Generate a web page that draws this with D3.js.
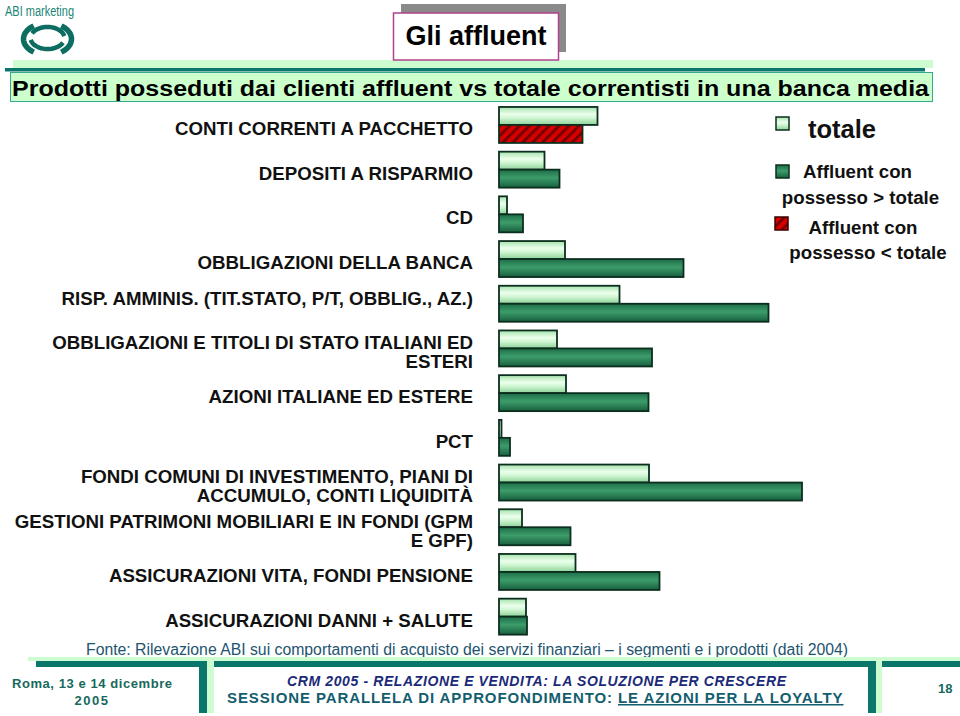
<!DOCTYPE html>
<html><head><meta charset="utf-8">
<script src="https://cdn.jsdelivr.net/npm/d3@7"></script>
<style>
body{margin:0;background:#fff;}
svg{display:block;font-family:"Liberation Sans",Arial,sans-serif;}
</style></head><body>
<svg id="c" width="960" height="716"></svg>
<script>
const categories = [
  "CONTI CORRENTI A PACCHETTO","DEPOSITI A RISPARMIO","CD","OBBLIGAZIONI DELLA BANCA",
  "RISP. AMMINIS. (TIT.STATO, P/T, OBBLIG., AZ.)","OBBLIGAZIONI E TITOLI DI STATO ITALIANI ED ESTERI",
  "AZIONI ITALIANE ED ESTERE","PCT","FONDI COMUNI DI INVESTIMENTO, PIANI DI ACCUMULO, CONTI LIQUIDITÀ",
  "GESTIONI PATRIMONI MOBILIARI E IN FONDI (GPM E GPF)","ASSICURAZIONI VITA, FONDI PENSIONE",
  "ASSICURAZIONI DANNI + SALUTE"
];
const labelLines = [
  ["CONTI CORRENTI A PACCHETTO"],["DEPOSITI A RISPARMIO"],["CD"],["OBBLIGAZIONI DELLA BANCA"],
  ["RISP. AMMINIS. (TIT.STATO, P/T, OBBLIG., AZ.)",""],
  ["OBBLIGAZIONI E TITOLI DI STATO ITALIANI ED","ESTERI"],
  ["AZIONI ITALIANE ED ESTERE"],["PCT"],
  ["FONDI COMUNI DI INVESTIMENTO, PIANI DI","ACCUMULO, CONTI LIQUIDITÀ"],
  ["GESTIONI PATRIMONI MOBILIARI E IN FONDI (GPM","E GPF)"],
  ["ASSICURAZIONI VITA, FONDI PENSIONE"],["ASSICURAZIONI DANNI + SALUTE"]
];
const totale   = [19.7, 9.1, 1.6, 13.2, 24.1, 11.6, 13.4, 0.5, 30.0, 4.6, 15.3, 5.4];
const affluent = [16.7,12.1, 4.8, 36.9, 53.9, 30.6, 29.9, 2.2, 60.6,14.3, 32.1, 5.6];
const seriesNames = ["totale","affluent"];
const legendLabels = [["totale"],["Affluent con","possesso > totale"],["Affluent con","possesso < totale"]];
const chartTitle = "Prodotti posseduti dai clienti affluent vs totale correntisti in una banca media";
const sectionTitle = "Gli affluent";
const sourceNote = "Fonte: Rilevazione ABI sui comportamenti di acquisto dei servizi finanziari – i segmenti e i prodotti (dati 2004)";

const svg = d3.select("#c");
const TEAL = "#0b776b", LIGHT = "#ccfcd0";
const defs = svg.append("defs");
function grad(id, stops){
  const g = defs.append("linearGradient").attr("id",id).attr("x1",0).attr("y1",0).attr("x2",0).attr("y2",1);
  stops.forEach(s=>g.append("stop").attr("offset",s[0]).attr("stop-color",s[1]));
}
grad("gTot",[[0,"#a3e2ab"],[0.4,"#ecffec"],[0.6,"#d2f7d4"],[1,"#8cd198"]]);
grad("gAff",[[0,"#1d6d47"],[0.45,"#3d9c6a"],[1,"#17603e"]]);
const pat = defs.append("pattern").attr("id","hatch").attr("patternUnits","userSpaceOnUse")
  .attr("width",7).attr("height",7).attr("patternTransform","rotate(45)");
pat.append("rect").attr("width",7).attr("height",7).attr("fill","#d40000");
pat.append("rect").attr("width",2.6).attr("height",7).attr("fill","#6e0000");

// ---- header / logo
svg.append("text").attr("x",5).attr("y",15.5).attr("font-size",14).attr("fill","#1a8576")
  .attr("textLength",69).attr("lengthAdjust","spacingAndGlyphs").text("ABI marketing");
const logo = svg.append("g").attr("fill","none").attr("stroke","#0d6d60");
function arcPath(cx,cy,rx,ry,a0,a1){
  const pts=d3.range(0,1.0001,0.05).map(t=>{const a=(a0+(a1-a0)*t)*Math.PI/180;return [cx+rx*Math.cos(a),cy+ry*Math.sin(a)];});
  return d3.line()(pts);
}
logo.append("path").attr("d",arcPath(47.5,39,24,16,125,235)).attr("stroke-width",5.5);
logo.append("path").attr("d",arcPath(47.5,39,24,16,-55,55)).attr("stroke-width",5.5);
logo.append("path").attr("d",arcPath(47.5,38,17,11,-155,-10)).attr("stroke-width",4.5);
logo.append("path").attr("d",arcPath(47.5,38,17,11,25,170)).attr("stroke-width",4.5);

svg.append("rect").attr("x",13).attr("y",60).attr("width",920).attr("height",8).attr("fill",LIGHT);
svg.append("rect").attr("x",5).attr("y",68).attr("width",920).attr("height",3.5).attr("fill",TEAL);
svg.append("rect").attr("x",10.5).attr("y",72.5).attr("width",922).attr("height",29).attr("fill","#ccffcc")
  .attr("stroke","#3aa890").attr("stroke-width",1);
svg.append("text").attr("x",12).attr("y",95.5).attr("font-size",21.5).attr("font-weight","bold").attr("fill","#000")
  .attr("textLength",917).attr("lengthAdjust","spacingAndGlyphs").text(chartTitle);

// section title box
svg.append("rect").attr("x",401).attr("y",4).attr("width",165).attr("height",48).attr("fill","#8a8a8a");
svg.append("rect").attr("x",393.5).attr("y",13).attr("width",165).attr("height",47).attr("fill","#fff")
  .attr("stroke","#b0428e").attr("stroke-width",1.5);
svg.append("text").attr("x",476).attr("y",45).attr("text-anchor","middle").attr("font-size",27)
  .attr("font-weight","bold").text(sectionTitle);

// ---- chart
const x = d3.scaleLinear().domain([0,100]).range([499,999]);
const y = d3.scaleBand().domain(categories).range([102.6,639]).paddingInner(0.195).paddingOuter(0.0975);
const ys = d3.scaleBand().domain(seriesNames).range([0,y.bandwidth()]);

const rows = categories.map((c,i)=>({c,i,tot:totale[i],aff:affluent[i]}));
const gBars = svg.append("g");
rows.forEach(r=>{
  gBars.append("rect").attr("x",x(0)).attr("y",y(r.c)+ys("totale"))
    .attr("width",x(r.tot)-x(0)).attr("height",ys.bandwidth())
    .attr("fill","url(#gTot)").attr("stroke","#0c2e1e").attr("stroke-width",1.8);
  gBars.append("rect").attr("x",x(0)).attr("y",y(r.c)+ys("affluent"))
    .attr("width",x(r.aff)-x(0)).attr("height",ys.bandwidth())
    .attr("fill", r.aff < r.tot ? "url(#hatch)" : "url(#gAff)").attr("stroke","#0c2e1e").attr("stroke-width",1.8);
});

// category labels
const gLab = svg.append("g").attr("font-size",18.7).attr("font-weight","bold").attr("fill","#111").attr("text-anchor","end");
rows.forEach(r=>{
  const lines = labelLines[r.i];
  const cy = y(r.c)+y.bandwidth()/2;
  const lh = 18.5;
  const base = cy + 10 - (lines.length-1)*lh/2;
  const t = gLab.append("text").attr("x",473).attr("y",base);
  lines.forEach((l,k)=>t.append("tspan").attr("x",473).attr("y",base+k*lh).text(l));
});

// legend
const lg = svg.append("g").attr("font-weight","bold").attr("fill","#111");
lg.append("rect").attr("x",776).attr("y",117).attr("width",13).attr("height",13).attr("fill","url(#gTot)").attr("stroke","#0c2e1e").attr("stroke-width",1.5);
lg.append("text").attr("x",808).attr("y",138).attr("font-size",25.5).text(legendLabels[0][0]);
lg.append("rect").attr("x",776).attr("y",165).attr("width",13).attr("height",13).attr("fill","url(#gAff)").attr("stroke","#0c2e1e").attr("stroke-width",1.5);
lg.append("text").attr("x",857.5).attr("y",178).attr("font-size",18.7).attr("text-anchor","middle").text(legendLabels[1][0]);
lg.append("text").attr("x",860.5).attr("y",204).attr("font-size",18.7).attr("text-anchor","middle").text(legendLabels[1][1]);
lg.append("rect").attr("x",775).attr("y",217).attr("width",13).attr("height",13).attr("fill","url(#hatch)").attr("stroke","#3a0000").attr("stroke-width",1.5);
lg.append("text").attr("x",863).attr("y",234).attr("font-size",18.7).attr("text-anchor","middle").text(legendLabels[2][0]);
lg.append("text").attr("x",868).attr("y",259).attr("font-size",18.7).attr("text-anchor","middle").text(legendLabels[2][1]);

// ---- footer
svg.append("text").attr("x",86).attr("y",655).attr("font-size",16).attr("fill","#1e5470")
  .attr("textLength",762).attr("lengthAdjust","spacingAndGlyphs").text(sourceNote);
svg.append("rect").attr("x",28).attr("y",657).attr("width",932).attr("height",4).attr("fill",LIGHT);
svg.append("rect").attr("x",207).attr("y",657).attr("width",7).attr("height",56).attr("fill",LIGHT);
svg.append("rect").attr("x",876).attr("y",657).attr("width",6).attr("height",56).attr("fill",LIGHT);
svg.append("rect").attr("x",36).attr("y",661).attr("width",171).attr("height",6).attr("fill",TEAL);
svg.append("rect").attr("x",199).attr("y",661).attr("width",8).attr("height",52).attr("fill",TEAL);
svg.append("rect").attr("x",214).attr("y",661).attr("width",662).attr("height",6).attr("fill",TEAL);
svg.append("rect").attr("x",868).attr("y",661).attr("width",8).attr("height",52).attr("fill",TEAL);
svg.append("rect").attr("x",882).attr("y",661).attr("width",78).attr("height",6).attr("fill",TEAL);

const ft = svg.append("g").attr("font-weight","bold");
ft.append("text").attr("x",12).attr("y",688).attr("font-size",13).attr("fill","#17695c")
  .attr("textLength",160).attr("lengthAdjust","spacing").text("Roma, 13 e 14 dicembre");
ft.append("text").attr("x",92).attr("y",705).attr("font-size",13).attr("fill","#17695c").attr("text-anchor","middle")
  .attr("letter-spacing",1.5).text("2005");
ft.append("text").attr("x",287).attr("y",686).attr("font-size",14).attr("font-style","italic").attr("fill","#1b2a78")
  .attr("textLength",499).attr("lengthAdjust","spacing").text("CRM 2005 - RELAZIONE E VENDITA: LA SOLUZIONE PER CRESCERE");
const s = ft.append("text").attr("x",227).attr("y",703).attr("font-size",15).attr("fill","#135e6e");
s.append("tspan").text("SESSIONE PARALLELA DI APPROFONDIMENTO: ").attr("letter-spacing",0.9);
s.append("tspan").text("LE AZIONI PER LA LOYALTY").attr("text-decoration","underline").attr("letter-spacing",0.9);
ft.append("text").attr("x",938).attr("y",693).attr("font-size",13).attr("fill","#17695c").text("18");
</script>
</body></html>
